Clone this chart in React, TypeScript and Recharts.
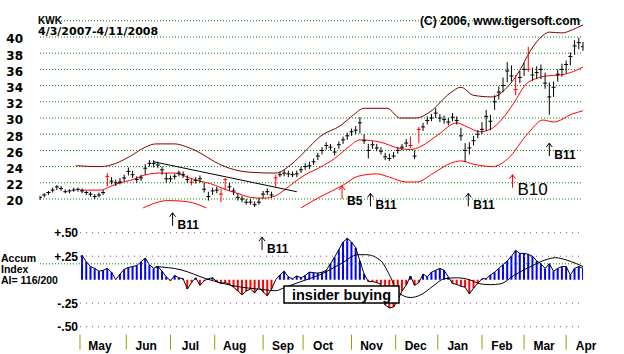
import React from "react";
import {
  ComposedChart,
  Line,
  Scatter,
  ErrorBar,
  Bar,
  Cell,
  XAxis,
  YAxis,
  CartesianGrid,
  ReferenceLine,
} from "recharts";

// trading-day index: 0 = 4/3/2007, 258 = 4/11/2008; price bars every 2nd day
const closes = [
  20.2, 20.5, 20.8, 21.1, 21.5, 21.3, 20.9, 21.0, 21.1, 21.2,
  21.0, 20.8, 20.6, 20.3, 20.5, 20.8, 22.8, 22.2, 22.0, 22.1,
  22.6, 23.4, 23.0, 22.4, 22.6, 23.8, 24.4, 24.4, 24.2, 23.6,
  22.5, 22.5, 22.8, 23.2, 23.0, 22.4, 22.1, 22.3, 22.5, 21.2,
  20.3, 21.0, 21.1, 20.6, 22.4, 21.5, 21.0, 20.2, 20.0, 19.6,
  19.6, 19.3, 19.6, 20.6, 20.9, 20.5, 22.6, 23.0, 23.2, 23.1,
  23.0, 23.1, 23.6, 24.0, 24.1, 24.6, 25.3, 26.0, 26.6, 26.4,
  25.8, 26.7, 27.3, 27.8, 28.3, 28.5, 29.4, 27.2, 26.0, 26.7,
  26.3, 25.9, 25.2, 25.0, 25.3, 26.0, 26.4, 26.9, 26.6, 25.3,
  28.6, 28.9, 29.7, 30.0, 30.6, 30.0, 29.8, 29.5, 30.1, 29.7,
  27.8, 26.0, 26.3, 27.2, 28.0, 28.6, 30.2, 29.6, 32.0, 33.2,
  34.0, 35.8, 35.2, 33.5, 35.0, 36.0, 36.0, 35.3, 35.6, 36.0,
  34.3, 32.6, 33.8, 35.4, 36.0, 36.6, 37.6, 38.9, 39.3, 38.8,
];
const lows = [
  19.9, 20.2, 20.5, 20.8, 21.1, 21.0, 20.7, 20.7, 20.9, 20.9,
  20.7, 20.5, 20.3, 20.0, 20.2, 20.5, 21.6, 21.8, 21.6, 21.8,
  22.2, 22.9, 22.6, 22.0, 22.2, 23.0, 24.0, 23.9, 23.8, 23.0,
  22.0, 22.1, 22.4, 22.8, 22.6, 22.0, 21.7, 21.9, 22.0, 20.8,
  19.8, 20.5, 20.7, 19.6, 21.1, 21.0, 20.5, 19.8, 19.6, 19.3,
  19.3, 19.0, 19.3, 20.1, 20.5, 20.1, 21.4, 22.7, 22.8, 22.7,
  22.7, 22.7, 23.2, 23.6, 23.7, 24.2, 24.8, 25.5, 26.1, 26.0,
  25.4, 26.2, 26.8, 27.3, 27.8, 28.0, 28.1, 26.8, 25.0, 26.2,
  25.9, 25.5, 24.8, 24.7, 25.0, 25.6, 26.0, 26.4, 26.3, 24.9,
  26.9, 28.4, 29.2, 29.6, 30.0, 29.5, 29.3, 29.1, 29.6, 29.2,
  27.2, 24.6, 25.5, 26.6, 27.5, 28.0, 28.4, 28.5, 31.0, 32.3,
  33.2, 34.4, 34.5, 32.8, 34.3, 35.2, 35.7, 34.6, 34.8, 34.8,
  33.6, 30.4, 32.6, 34.5, 35.1, 35.5, 36.5, 37.8, 38.5, 38.3,
];
const highs = [
  20.4, 20.7, 21.0, 21.4, 21.7, 21.6, 21.2, 21.2, 21.4, 21.4,
  21.3, 21.0, 20.9, 20.6, 20.8, 21.1, 23.2, 22.7, 22.4, 22.6,
  23.0, 23.9, 23.5, 22.8, 23.0, 24.3, 24.8, 24.8, 24.6, 24.0,
  23.2, 22.9, 23.1, 23.5, 23.4, 22.9, 22.6, 22.7, 22.9, 22.0,
  20.9, 21.4, 21.5, 21.3, 22.6, 22.0, 21.4, 20.7, 20.4, 20.0,
  20.0, 19.7, 20.1, 21.0, 21.3, 20.9, 23.0, 23.4, 23.6, 23.5,
  23.4, 23.5, 24.0, 24.4, 24.6, 25.0, 25.7, 26.4, 27.0, 26.8,
  26.3, 27.1, 27.7, 28.2, 28.7, 29.0, 30.1, 28.0, 26.8, 27.1,
  26.8, 26.4, 25.7, 25.6, 25.8, 26.4, 26.8, 27.4, 27.7, 26.0,
  28.9, 29.4, 30.2, 30.5, 31.2, 30.5, 30.3, 30.0, 30.6, 30.2,
  28.8, 26.9, 27.0, 27.8, 28.5, 29.5, 31.0, 30.4, 32.8, 33.9,
  35.0, 36.9, 36.5, 35.3, 35.8, 36.8, 38.8, 36.2, 36.4, 36.6,
  35.6, 34.4, 34.5, 36.0, 36.7, 37.1, 38.1, 39.6, 39.9, 39.4,
];
const redDays = [32, 72, 86, 88, 112, 176, 180, 226, 232];

const upperDays = [17, 29, 36, 43, 50, 55, 64, 69, 76, 83, 90, 100, 112, 119, 126, 133, 143, 149, 154, 165, 171, 179, 185, 195, 200, 206, 215, 222, 228, 233, 239, 242, 248, 253, 258];
const upperVals = [24.1, 24.0, 24.4, 25.3, 26.4, 26.8, 26.8, 26.5, 25.7, 24.6, 23.8, 23.3, 23.2, 24.2, 25.9, 27.7, 29.1, 30.4, 31.2, 31.2, 30.0, 30.0, 30.7, 33.1, 33.8, 32.8, 32.6, 33.8, 35.9, 38.3, 40.2, 40.6, 40.5, 40.9, 41.5];

const midDays = [19, 29, 33, 38, 43, 48, 52, 57, 64, 71, 76, 81, 86, 90, 95, 100, 106, 112, 116, 121, 126, 133, 140, 147, 152, 162, 170, 176, 181, 189, 198, 203, 209, 214, 220, 225, 231, 236, 241, 247, 252, 258];
const midVals = [21.1, 21.1, 21.5, 22.0, 22.3, 22.8, 23.1, 23.2, 23.2, 22.6, 22.2, 21.9, 21.4, 21.0, 20.6, 20.2, 20.1, 20.4, 21.1, 22.1, 23.0, 23.9, 25.0, 26.5, 27.3, 27.0, 26.3, 26.1, 26.5, 27.9, 29.4, 28.9, 28.3, 28.6, 30.0, 31.8, 34.2, 34.9, 35.2, 35.3, 35.6, 36.3];

const lowerADays = [49, 56, 60, 67, 73, 79];
const lowerAVals = [18.9, 19.6, 19.8, 19.75, 19.5, 18.9];
const lowerBDays = [124, 133, 144, 151, 160, 166, 174, 179, 187, 195, 200, 206, 215, 222, 232, 239, 244, 253, 258];
const lowerBVals = [18.9, 20.25, 21.7, 22.8, 23.1, 22.7, 22.1, 22.1, 23.2, 24.4, 24.7, 24.3, 24.0, 24.9, 28.15, 29.75, 29.5, 30.5, 30.9];

const trendDays = [54, 122];
const trendVals = [24.6, 20.9];

const signalDays = [63, 105.5, 143.5, 157, 203.5, 224.5, 242];
const signalVals = [18.3, 15.3, 21.6, 20.7, 20.7, 23.0, 26.9];
const signalLabels = ["B11", "B11", "B5", "B11", "B11", "B10", "B11"];

const priceTicks = [20, 22, 24, 26, 28, 30, 32, 34, 36, 38, 40];

// accumulation index, every 2nd day from day 20
const accum = [
  0.26, 0.19, 0.14, 0.12, 0.09, 0.1, 0.12, 0.08, 0.0, 0.06,
  0.11, 0.13, 0.14, 0.15, 0.19, 0.23, 0.16, 0.12, 0.14, 0.09,
  0.03, -0.01, 0.045, 0.02, 0.01, -0.1, -0.03, 0.02, -0.06, -0.01,
  0.01, 0.02, -0.02, -0.04, -0.03, -0.05, -0.08, -0.12, -0.16, -0.12,
  -0.1, -0.14, -0.08, -0.13, -0.17, -0.1, 0.0, 0.05, 0.09, 0.03,
  0.01, 0.04, 0.02, 0.045, 0.08, 0.075, 0.07, 0.08, 0.1, 0.17,
  0.24, 0.32, 0.4, 0.44, 0.4, 0.34, 0.2, 0.06, -0.02, -0.02,
  -0.03, -0.05, -0.27, -0.3, -0.29, -0.22, -0.12, -0.06, 0.04, -0.06,
  -0.03, 0.06, 0.03, 0.08, 0.1, 0.12, 0.1, 0.03, -0.04, -0.05,
  -0.07, -0.08, -0.15, -0.09, -0.04, 0.01, 0.01, 0.05, 0.08, 0.12,
  0.16, 0.2, 0.25, 0.31, 0.28, 0.28, 0.27, 0.25, 0.2, 0.17,
  0.12, 0.17, 0.09, 0.12, 0.14, 0.14, 0.05, 0.12, 0.14, 0.12,
];
const maDays = [55, 67, 79, 92, 106, 112, 116, 124, 133, 143, 151, 155, 162, 166, 170, 176, 181, 187, 192, 198, 204, 209, 214, 219, 225, 234, 240, 245, 250, 255, 258];
const maVals = [0.14, 0.105, 0.01, -0.065, -0.105, -0.117, -0.085, -0.02, 0.053, 0.17, 0.266, 0.266, 0.2, 0.053, -0.128, -0.19, -0.16, -0.064, 0.01, 0.02, 0.0, -0.043, -0.053, -0.043, 0.043, 0.15, 0.21, 0.234, 0.21, 0.17, 0.14];
const accumTicks = [0.5, 0.25, -0.25, -0.5];

const monthDays = [19, 41, 62, 83, 106, 125, 148, 169, 189, 210, 230, 250];
const monthNames = ["May", "Jun", "Jul", "Aug", "Sep", "Oct", "Nov", "Dec", "Jan", "Feb", "Mar", "Apr"];

const SANS = "'Liberation Sans', Arial, sans-serif";
const WIDE = "'DejaVu Sans', sans-serif";

const pts = (days: number[], vals: number[]) => days.map((x, k) => ({ x, v: vals[k] }));

const priceRows = closes.map((c, k) => ({
  x: 2 * k,
  c,
  e: [+(c - lows[k]).toFixed(2), +(highs[k] - c).toFixed(2)],
}));
const blackRows = priceRows.filter((r) => !redDays.includes(r.x));
const redRows = priceRows.filter((r) => redDays.includes(r.x));
const signalRows = signalDays.map((x, k) => ({ x, v: signalVals[k], label: signalLabels[k] }));
const accumRows = accum.map((a, k) => ({ x: 20 + 2 * k, a }));

const closeTick = (color: string) => (p: any) =>
  <line x1={p.cx - 2} x2={p.cx + 2} y1={p.cy} y2={p.cy} stroke={color} strokeWidth={1} />;

function SignalMark(p: any) {
  const { cx, cy, payload } = p;
  if (cx == null || cy == null) return <g />;
  const red = payload.label === "B5" || payload.label === "B10";
  const big = payload.label === "B10";
  const col = red ? "#ff0000" : "#000000";
  const dy = big ? 20 : payload.label === "B5" ? 19 : 16;
  return (
    <g>
      <line x1={cx} x2={cx} y1={cy} y2={cy + 13} stroke={col} strokeWidth={1} />
      <polyline points={`${cx - 3},${cy + 4} ${cx},${cy} ${cx + 3},${cy + 4}`} fill="none" stroke={col} strokeWidth={1} />
      <text x={cx + 5} y={cy + dy} fontSize={big ? 17 : 12} fontWeight={big ? "normal" : "bold"} fontFamily={SANS} fill="#000">
        {payload.label}
      </text>
    </g>
  );
}

function PriceTick({ x, y, payload }: any) {
  return (
    <text x={x - 17} y={y} dy={6.3} textAnchor="end" fontSize={12} fontWeight="bold" fontFamily={WIDE} fill="#000">
      {payload.value}
    </text>
  );
}

function AccumTick({ x, y, payload }: any) {
  const v = payload.value;
  const s = (v > 0 ? "+" : "-") + "." + String(Math.round(Math.abs(v) * 100)).padStart(2, "0");
  return (
    <text x={x + 38} y={y} dy={4.3} textAnchor="end" fontSize={12} fontWeight="bold" fontFamily={SANS} fill="#000">
      {s}
    </text>
  );
}

function MonthTick({ x, y, payload }: any) {
  const name = monthNames[monthDays.indexOf(payload.value)];
  return (
    <g>
      <line x1={x} x2={x} y1={y + 8} y2={y + 23} stroke="#9c9c00" strokeWidth={1} />
      <text x={x + 20} y={y + 22.8} textAnchor="middle" fontSize={12} fontWeight="bold" fontFamily={SANS} fill="#000">
        {name}
      </text>
    </g>
  );
}

function PriceChart() {
  return (
    <ComposedChart width={624} height={270} data={priceRows} margin={{ top: 20.8, right: 41, bottom: 6.2, left: 0 }}>
      <CartesianGrid horizontal vertical={false} stroke="#008000" strokeDasharray="1 2" />
      <XAxis type="number" dataKey="x" domain={[0, 258]} hide allowDataOverflow />
      <YAxis
        type="number"
        domain={[12, 42]}
        ticks={priceTicks}
        interval={0}
        width={40}
        axisLine={false}
        tickLine={false}
        tickSize={0}
        tickMargin={0}
        tick={<PriceTick />}
        allowDataOverflow
      />
      <Line data={pts(upperDays, upperVals)} dataKey="v" type="monotone" stroke="#800000" strokeWidth={1} dot={false} isAnimationActive={false} />
      <Line data={pts(midDays, midVals)} dataKey="v" type="monotone" stroke="#ff0000" strokeWidth={1} dot={false} isAnimationActive={false} />
      <Line data={pts(lowerADays, lowerAVals)} dataKey="v" type="monotone" stroke="#ff0000" strokeWidth={1} dot={false} isAnimationActive={false} />
      <Line data={pts(lowerBDays, lowerBVals)} dataKey="v" type="monotone" stroke="#ff0000" strokeWidth={1} dot={false} isAnimationActive={false} />
      <ReferenceLine
        segment={[
          { x: trendDays[0], y: trendVals[0] },
          { x: trendDays[1], y: trendVals[1] },
        ]}
        stroke="#000"
        strokeWidth={1}
      />
      <Scatter data={blackRows} dataKey="c" shape={closeTick("#000000")} isAnimationActive={false}>
        <ErrorBar dataKey="e" direction="y" width={0} stroke="#000000" strokeWidth={1} isAnimationActive={false} />
      </Scatter>
      <Scatter data={redRows} dataKey="c" shape={closeTick("#ff0000")} isAnimationActive={false}>
        <ErrorBar dataKey="e" direction="y" width={0} stroke="#ff0000" strokeWidth={1} isAnimationActive={false} />
      </Scatter>
      <Scatter data={signalRows} dataKey="v" shape={SignalMark} isAnimationActive={false} />
    </ComposedChart>
  );
}

function AccumChart() {
  return (
    <ComposedChart width={624} height={354} data={accumRows} margin={{ top: 232.7, right: 41, bottom: 0, left: 0 }}>
      <XAxis
        type="number"
        dataKey="x"
        domain={[0, 258]}
        ticks={monthDays}
        interval={0}
        height={27.3}
        axisLine={false}
        tickLine={false}
        tickSize={0}
        tickMargin={0}
        tick={<MonthTick />}
        allowDataOverflow
      />
      <YAxis
        type="number"
        domain={[-0.5, 0.5]}
        ticks={accumTicks}
        interval={0}
        width={40}
        axisLine={false}
        tickLine={false}
        tickSize={0}
        tickMargin={0}
        tick={<AccumTick />}
        allowDataOverflow
      />
      {accumTicks.map((v) => (
        <ReferenceLine
          key={v}
          segment={[
            { x: monthDays[0], y: v },
            { x: 258, y: v },
          ]}
          stroke="#b030b0"
          strokeDasharray="1 5"
        />
      ))}
      <Bar dataKey="a" barSize={2} isAnimationActive={false}>
        {accumRows.map((r, k) => (
          <Cell key={k} fill={r.a >= 0 ? "#0000ff" : "#ff0000"} />
        ))}
      </Bar>
      <Line dataKey="a" type="linear" stroke="#000" strokeWidth={1} dot={false} isAnimationActive={false} />
      <Line data={pts(maDays, maVals)} dataKey="v" type="monotone" stroke="#000" strokeWidth={1} dot={false} isAnimationActive={false} />
    </ComposedChart>
  );
}

export default function App() {
  return (
    <div style={{ position: "absolute", left: 0, top: 0, width: 624, height: 354, background: "#fff", overflow: "hidden" }}>
      <div style={{ position: "absolute", left: 0, top: 0 }}>
        <AccumChart />
      </div>
      <div style={{ position: "absolute", left: 0, top: 0 }}>
        <PriceChart />
      </div>
      <svg width={624} height={354} style={{ position: "absolute", left: 0, top: 0, pointerEvents: "none" }}>
        <text x={38} y={24} fontSize={10} fontWeight="bold" fontFamily={SANS}>KWK</text>
        <text x={38} y={34.5} fontSize={11} fontWeight="bold" fontFamily={WIDE}>4/3/2007-4/11/2008</text>
        <text x={420} y={24.5} fontSize={12} fontWeight="bold" fontFamily={SANS}>(C) 2006, www.tigersoft.com</text>
        <text x={1} y={262} fontSize={10.5} fontWeight="bold" fontFamily={SANS}>Accum</text>
        <text x={1} y={273} fontSize={10.5} fontWeight="bold" fontFamily={SANS}>Index</text>
        <text x={1} y={284} fontSize={10.5} fontWeight="bold" fontFamily={SANS}>AI= 116/200</text>
        <rect x={284} y={286} width={115} height={17} fill="#fff" stroke="#000" strokeWidth={1.5} />
        <text x={341.5} y={299.5} textAnchor="middle" fontSize={14.5} fontWeight="bold" fontFamily={SANS}>insider buying</text>
      </svg>
    </div>
  );
}
